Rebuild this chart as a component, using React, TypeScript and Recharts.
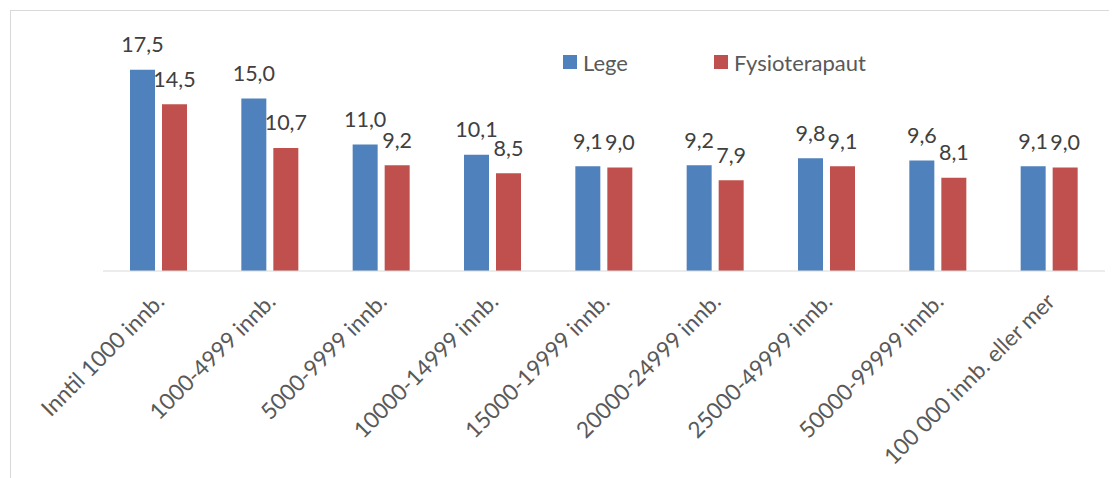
import { Bar, BarChart, LabelList, Legend, XAxis, YAxis } from 'recharts'

const categories = [
  'Inntil 1000 innb.',
  '1000-4999 innb.',
  '5000-9999 innb.',
  '10000-14999 innb.',
  '15000-19999 innb.',
  '20000-24999 innb.',
  '25000-49999 innb.',
  '50000-99999 innb.',
  '100 000 innb. eller mer',
]
const lege = [17.5, 15.0, 11.0, 10.1, 9.1, 9.2, 9.8, 9.6, 9.1]
const fysioterapaut = [14.5, 10.7, 9.2, 8.5, 9.0, 7.9, 9.1, 8.1, 9.0]

const data = categories.map((name, i) => ({
  name,
  lege: lege[i],
  fysio: fysioterapaut[i],
}))

const FONT = 'Lato, "Open Sans", sans-serif'
const W = 1106
const H = 467

const fmt = (v: unknown) => Number(v).toFixed(1).replace('.', ',')

function Tick({ x, y, payload }: any) {
  const tx = x + 7
  const ty = y + 32
  return (
    <text
      x={tx}
      y={ty}
      transform={`rotate(-45 ${tx} ${ty})`}
      textAnchor="end"
      fill="#595959"
      fontSize={22.5}
      fontFamily={FONT}
    >
      {payload.value}
    </text>
  )
}

// legend item left edges, by series name
const legendLeft: Record<string, number> = { Lege: 552, Fysioterapaut: 703 }

function LegendContent({ payload }: any) {
  return (
    <div style={{ position: 'relative', width: 0, height: 0 }}>
      {(payload || []).map((p: any) => (
        <div
          key={p.value}
          style={{
            position: 'absolute',
            left: legendLeft[p.value],
            top: 39,
            height: 24,
            display: 'flex',
            alignItems: 'center',
            whiteSpace: 'nowrap',
            fontFamily: FONT,
            fontSize: 22,
            color: '#595959',
          }}
        >
          <span
            style={{
              display: 'inline-block',
              width: 14,
              height: 14,
              background: p.color,
              marginRight: 6,
            }}
          />
          {p.value}
        </div>
      ))}
    </div>
  )
}

export default function App() {
  return (
    <div
      style={{
        marginLeft: 2,
        marginTop: 2,
        width: W,
        height: H,
        borderLeft: '1px solid #d9d9d9',
        borderTop: '1px solid #d9d9d9',
        background: '#fff',
      }}
    >
      <BarChart
        width={W}
        height={H}
        data={data}
        margin={{ top: 30, right: 12, left: 92, bottom: 0 }}
        barSize={25}
        barGap={7}
      >
        <XAxis
          dataKey="name"
          interval={0}
          height={207}
          tickSize={0}
          tickMargin={0}
          tickLine={false}
          axisLine={{ stroke: '#d9d9d9', strokeWidth: 1 }}
          tick={<Tick />}
        />
        <YAxis hide domain={[0, 20]} />
        <Legend
          content={<LegendContent />}
          wrapperStyle={{ left: 0, top: 0, width: 0, height: 0 }}
        />
        <Bar dataKey="lege" name="Lege" fill="#4F81BD" isAnimationActive={false}>
          <LabelList
            dataKey="lege"
            position="top"
            offset={17.5}
            formatter={fmt}
            fill="#404040"
            fontSize={21.5}
            fontFamily={FONT}
          />
        </Bar>
        <Bar dataKey="fysio" name="Fysioterapaut" fill="#C0504D" isAnimationActive={false}>
          <LabelList
            dataKey="fysio"
            position="top"
            offset={17.5}
            formatter={fmt}
            fill="#404040"
            fontSize={21.5}
            fontFamily={FONT}
          />
        </Bar>
      </BarChart>
    </div>
  )
}
